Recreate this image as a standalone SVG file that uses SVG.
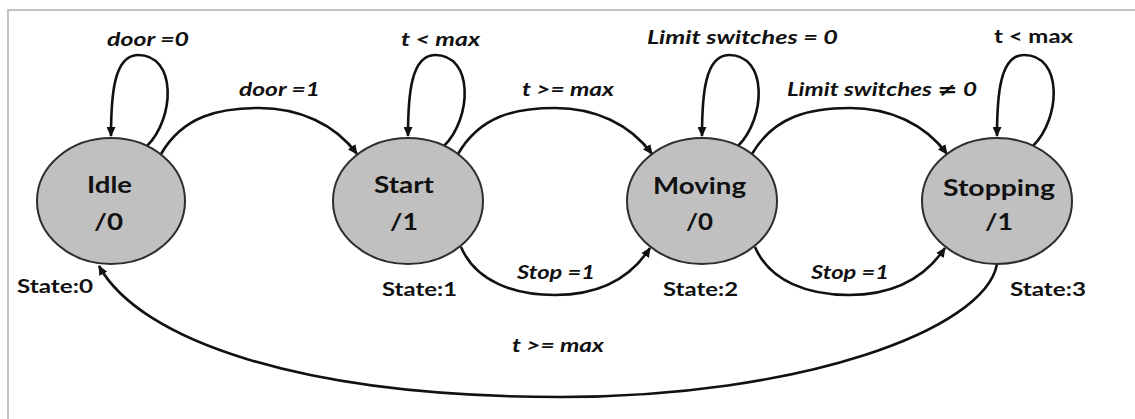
<svg xmlns="http://www.w3.org/2000/svg" width="1135" height="419" viewBox="0 0 1135 419">
  <style>
    .frame { fill: none; stroke: #c4c4c4; stroke-width: 2; }
    .state { fill: #c0c0c0; stroke: #2e2e2e; stroke-width: 2; }
    text { font-family: Lato, "Open Sans", "Liberation Sans", sans-serif; font-weight: bold; fill: #111; }
    .name { font-size: 23px; }
    .sid { font-size: 18px; }
    .cond { font-style: italic; font-size: 18px; }
    .cond-up { font-size: 18px; }
    .sym { font-family: "DejaVu Sans", "Open Sans", sans-serif; font-style: normal; }
    .edge { fill: none; stroke: #111; stroke-width: 2.6; marker-end: url(#arrow); }
  </style>
  <defs>
    <marker id="arrow" markerUnits="userSpaceOnUse" markerWidth="10" markerHeight="9" refX="9" refY="4.5" orient="auto">
      <path d="M0,0 L10,4.5 L0,9 z" fill="#111"/>
    </marker>
  </defs>

  <rect width="1135" height="419" fill="#fff"/>
  <path class="frame" d="M8,419 V10 H1135"/>

  <!-- transitions -->
  <g id="connectors">
    <!-- self loops -->
    <path class="edge" d="M147,146 C175,118 177,55 138,55 C114,55 111,95 111,136"/>
    <path class="edge" d="M444,146 C472,118 474,55 435,55 C411,55 408,95 408,136"/>
    <path class="edge" d="M738,146 C766,118 768,55 729,55 C705,55 702,95 702,136"/>
    <path class="edge" d="M1033,146 C1061,118 1063,55 1024,55 C1000,55 997,95 997,136"/>
    <!-- upper arcs -->
    <path class="edge" d="M161,154 C183,116 219,108 259,108 S335,124 357,154"/>
    <path class="edge" d="M458,154 C480,116 515,108 555,108 S630,124 652,154"/>
    <path class="edge" d="M752,154 C774,116 810,108 850,108 S925,124 947,154"/>
    <!-- lower arcs -->
    <path class="edge" d="M461,247 C476,282 515,295 555,295 S628,282 650,248"/>
    <path class="edge" d="M755,247 C770,282 809,295 849,295 S922,282 945,248"/>
    <!-- return to idle -->
    <path class="edge" d="M997,264 C985,330 800,397 560,397 C300,397 140,340 99,266"/>
  </g>

  <!-- transition conditions -->
  <g id="conditions">
    <text class="cond" x="107" y="46" textLength="82" lengthAdjust="spacingAndGlyphs">door =0</text>
    <text class="cond" x="401" y="46" textLength="79" lengthAdjust="spacingAndGlyphs">t &lt; max</text>
    <text class="cond" x="647" y="44" textLength="191" lengthAdjust="spacingAndGlyphs">Limit switches = 0</text>
    <text class="cond-up" x="994" y="43" textLength="79" lengthAdjust="spacingAndGlyphs">t &lt; max</text>
    <text class="cond" x="239" y="96" textLength="81" lengthAdjust="spacingAndGlyphs">door =1</text>
    <text class="cond" x="522" y="96" textLength="92" lengthAdjust="spacingAndGlyphs">t &gt;= max</text>
    <text class="cond" x="787" y="96" textLength="190" lengthAdjust="spacingAndGlyphs">Limit switches <tspan class="sym">≠</tspan> 0</text>
    <text class="cond" x="517" y="279" textLength="78" lengthAdjust="spacingAndGlyphs">Stop =1</text>
    <text class="cond" x="811" y="279" textLength="78" lengthAdjust="spacingAndGlyphs">Stop =1</text>
    <text class="cond" x="512" y="352" textLength="92" lengthAdjust="spacingAndGlyphs">t &gt;= max</text>
  </g>

  <g id="idle">
    <ellipse class="state" cx="111" cy="201" rx="74" ry="63"/>
    <text class="name" x="87" y="193" textLength="45" lengthAdjust="spacingAndGlyphs">Idle</text>
    <text class="name" x="94" y="230" textLength="29" lengthAdjust="spacingAndGlyphs">/0</text>
    <text class="sid" x="17" y="293" textLength="76" lengthAdjust="spacingAndGlyphs">State:0</text>
  </g>

  <g id="start">
    <ellipse class="state" cx="408" cy="201" rx="75" ry="63"/>
    <text class="name" x="374" y="193" textLength="60" lengthAdjust="spacingAndGlyphs">Start</text>
    <text class="name" x="390" y="230" textLength="28" lengthAdjust="spacingAndGlyphs">/1</text>
    <text class="sid" x="382" y="296" textLength="75" lengthAdjust="spacingAndGlyphs">State:1</text>
  </g>

  <g id="moving">
    <ellipse class="state" cx="702" cy="201" rx="75" ry="63"/>
    <text class="name" x="653" y="194" textLength="93" lengthAdjust="spacingAndGlyphs">Moving</text>
    <text class="name" x="686" y="230" textLength="27" lengthAdjust="spacingAndGlyphs">/0</text>
    <text class="sid" x="663" y="296" textLength="75" lengthAdjust="spacingAndGlyphs">State:2</text>
  </g>

  <g id="stopping">
    <ellipse class="state" cx="997" cy="201" rx="75" ry="63"/>
    <text class="name" x="943" y="196" textLength="112" lengthAdjust="spacingAndGlyphs">Stopping</text>
    <text class="name" x="985" y="230" textLength="28" lengthAdjust="spacingAndGlyphs">/1</text>
    <text class="sid" x="1010" y="296" textLength="76" lengthAdjust="spacingAndGlyphs">State:3</text>
  </g>
</svg>
